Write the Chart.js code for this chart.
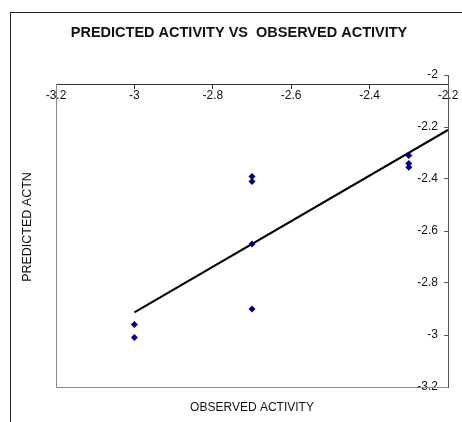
<!DOCTYPE html>
<html>
<head>
<meta charset="utf-8">
<script src="https://cdn.jsdelivr.net/npm/chart.js@4.4.1/dist/chart.umd.min.js"></script>
<style>
  html, body { margin: 0; padding: 0; background: #fff; }
  #wrap { position: relative; width: 462px; height: 422px; overflow: hidden; }
  #frame { position: absolute; left: 10px; top: 12px; width: 460px; height: 420px;
           border-left: 1px solid #222; border-top: 1px solid #222; pointer-events: none; }
</style>
</head>
<body>
<div id="wrap">
  <canvas id="chart" width="462" height="422"></canvas>
  <div id="frame"></div>
</div>
<script>
// values
const observed  = [-3.0, -3.0, -2.7, -2.7, -2.7, -2.7, -2.3, -2.3, -2.3];
const predicted = [-2.96, -3.01, -2.39, -2.41, -2.65, -2.90, -2.31, -2.34, -2.355];
const xTicks = [-3.2, -3, -2.8, -2.6, -2.4, -2.2];
const yTicks = [-3.2, -3, -2.8, -2.6, -2.4, -2.2, -2];
const xMin = -3.2, xMax = -2.2, yMin = -3.2, yMax = -2;
const xCross = -2.035;   // the top axis sits a little below y = -2

const chartTitle = 'PREDICTED ACTIVITY VS  OBSERVED ACTIVITY';
const xTitle = 'OBSERVED ACTIVITY';
const yTitle = 'PREDICTED ACTN';

// least squares trend line
function fit(xs, ys) {
    const n = xs.length;
    const mx = xs.reduce((a,b)=>a+b, 0) / n;
    const my = ys.reduce((a,b)=>a+b, 0) / n;
    let sxy = 0, sxx = 0;
    xs.forEach((x, i) => { sxy += (x - mx) * (ys[i] - my); sxx += (x - mx) * (x - mx); });
    const slope = sxy / sxx;
    return x => my + slope * (x - mx);
}
const trend = fit(observed, predicted);
const lineStart = Math.min(...observed);
const trendPts = [lineStart, xMax].map(x => ({ x, y: trend(x) }));
const points = observed.map((x, i) => ({ x, y: predicted[i] }));

Chart.defaults.font.family = "'Liberation Sans', Arial, sans-serif";

const decor = {
    id: 'decor',
    beforeDatasetsDraw(chart) {
        const { ctx, chartArea: a, scales: { x, y } } = chart;
        const top = y.getPixelForValue(xCross);
        const right = Math.round(x.getPixelForValue(xMax)) + 0.5;
        ctx.save();
        ctx.lineWidth = 1;
        ctx.strokeStyle = '#8c8c8c';
        ctx.beginPath();
        ctx.moveTo(a.left + 0.5, top);
        ctx.lineTo(a.left + 0.5, Math.round(a.bottom) + 0.5);
        ctx.lineTo(right, Math.round(a.bottom) + 0.5);
        ctx.stroke();
        // right hand axis line
        ctx.strokeStyle = '#555';
        ctx.beginPath();
        ctx.moveTo(right, Math.round(a.top));
        ctx.lineTo(right, Math.round(a.bottom) + 1);
        ctx.stroke();
        ctx.restore();
    },
    afterDraw(chart) {
        const ctx = chart.ctx;
        ctx.save();
        ctx.fillStyle = '#111';
        ctx.textAlign = 'center';
        ctx.textBaseline = 'middle';
        ctx.font = "bold 14.5px 'Liberation Sans', Arial, sans-serif";
        ctx.fillText(chartTitle, 239, 33);
        ctx.font = "12px 'Liberation Sans', Arial, sans-serif";
        ctx.fillText(xTitle, 252, 408);
        ctx.translate(28, 227);
        ctx.rotate(-Math.PI / 2);
        ctx.font = "12.5px 'Liberation Sans', Arial, sans-serif";
        ctx.fillText(yTitle, 0, 0);
        ctx.restore();
    }
};

new Chart(document.getElementById('chart'), {
    type: 'scatter',
    data: {
        datasets: [{
            data: points,
            pointStyle: 'rectRot',
            pointRadius: 3.5,
            backgroundColor: '#00007f',
            borderColor: '#00007f',
            borderWidth: 0
        }, {
            data: trendPts,
            showLine: true,
            pointRadius: 0,
            borderColor: '#000',
            borderWidth: 2
        }]
    },
    options: {
        responsive: false,
        animation: false,
        devicePixelRatio: 1,
        layout: { padding: { left: 56, right: 14, top: 75, bottom: 35 } },
        plugins: { legend: { display: false }, tooltip: { enabled: false } },
        scales: {
            x: {
                type: 'linear', min: xMin, max: xMax,
                position: { y: xCross },
                afterBuildTicks: s => { s.ticks = xTicks.map(v => ({ value: v })); },
                grid: { display: true, drawOnChartArea: false, drawTicks: true, tickLength: 4, tickColor: '#333' },
                border: { color: '#333', width: 1 },
                ticks: { color: '#111', padding: 0, maxRotation: 0, font: { size: 12 }, callback: v => String(v) }
            },
            y: {
                type: 'linear', min: yMin, max: yMax,
                position: { x: xMax },
                afterBuildTicks: s => { s.ticks = yTicks.map(v => ({ value: v })); },
                grid: { display: true, drawOnChartArea: false, drawTicks: true, tickLength: 4, tickColor: '#555' },
                border: { color: '#555', width: 1 },
                ticks: { color: '#111', font: { size: 12 }, callback: v => String(v) + '   ' }
            }
        }
    },
    plugins: [decor]
});
</script>
</body>
</html>
